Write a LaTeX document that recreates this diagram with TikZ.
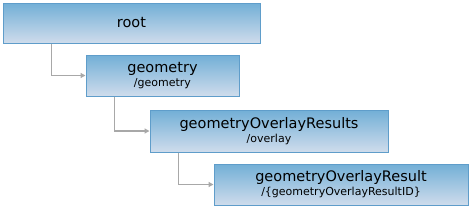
\documentclass[tikz,border=0pt]{standalone}
\usepackage{fontspec}
\setmainfont{DejaVu Sans}
\usetikzlibrary{arrows.meta}

\definecolor{boxtop}{HTML}{72AFD6}
\definecolor{boxbot}{HTML}{CFDCEC}
\definecolor{boxline}{HTML}{5F9DCA}
\definecolor{linkgray}{HTML}{A8A8A8}

\newcommand{\respath}[1]{{\fontsize{11}{12}\selectfont #1}}

\tikzset{
  resbox/.style={draw=boxline, line width=1pt, top color=boxtop, bottom color=boxbot,
    inner sep=0pt, align=center, text=black, font=\fontsize{14.5}{14}\selectfont},
  link/.style={draw=linkgray, line width=1.8pt, -{Triangle[length=5pt, width=5pt]}}
}

\begin{document}
\begin{tikzpicture}[>=Latex]
  \useasboundingbox (0,0) rectangle (470pt,-207pt);
  \node[resbox, minimum width=257pt, minimum height=40pt] (root) at (131.5pt,-23pt)
      {root};
  \node[resbox, minimum width=153pt, minimum height=41pt] (geom) at (162.5pt,-75.5pt)
      {geometry\\\respath{/geometry}};
  \node[resbox, minimum width=238pt, minimum height=42pt] (overlays) at (269pt,-131pt)
      {geometryOverlayResults\\\respath{/overlay}};
  \node[resbox, minimum width=254pt, minimum height=41pt] (overlay) at (341pt,-184.5pt)
      {geometryOverlayResult\\\respath{/\{geometryOverlayResultID\}}};
  \draw[link] ([xshift=49pt]root.south west) |- (geom.west);
  \draw[link] ([xshift=29pt]geom.south west) |- (overlays.west);
  \draw[link] ([xshift=29pt]overlays.south west) |- (overlay.west);
\end{tikzpicture}
\end{document}
